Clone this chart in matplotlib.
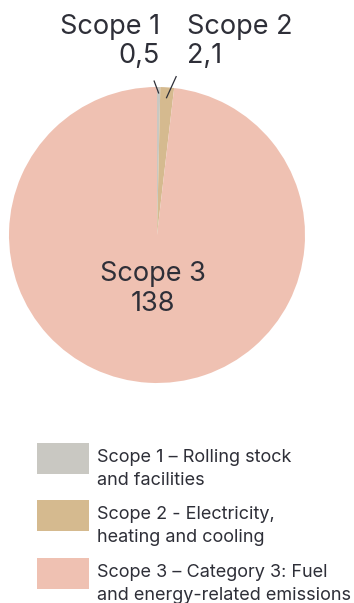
import matplotlib
matplotlib.use("Agg")
import matplotlib.pyplot as plt
import matplotlib.patches as mpatches
import numpy as np

plt.rcParams['font.family'] = ['Inter', 'DejaVu Sans']

labels = ["Scope 1", "Scope 2", "Scope 3"]
values = [0.5, 2.1, 138]
value_labels = ["0,5", "2,1", "138"]
legend_labels = ["Scope 1 – Rolling stock\nand facilities",
                 "Scope 2 - Electricity,\nheating and cooling",
                 "Scope 3 – Category 3: Fuel\nand energy-related emissions"]
colors = ["#C9C8C2", "#D5BA8F", "#EFC1B2"]
text_color = "#2E2F38"

W, H = 354, 603
fig = plt.figure(figsize=(W / 100, H / 100), dpi=100)
ax = fig.add_axes([9 / W, 220 / H, 296 / W, 296 / H])
wedges, _ = ax.pie(values, colors=colors, startangle=90, counterclock=False,
                   radius=1.0, wedgeprops=dict(linewidth=0))
ax.set_xlim(-1, 1)
ax.set_ylim(-1, 1)
ax.set_aspect('equal')
ax.axis('off')

def mid_angle(w):
    return np.deg2rad((w.theta1 + w.theta2) / 2)

a1 = mid_angle(wedges[0])
a2 = mid_angle(wedges[1])
ax.plot([0.96 * np.cos(a1), 0.96 * np.cos(a1) - 0.03], [0.96 * np.sin(a1), 1.04],
        color=text_color, lw=0.9, clip_on=False)
ax.plot([0.93 * np.cos(a2), 0.93 * np.cos(a2) + 0.065], [0.93 * np.sin(a2), 1.07],
        color=text_color, lw=0.9, clip_on=False)

lbl_fs = 19.5
ax.text(0.02, 1.305, f"{labels[0]}\n{value_labels[0]}", ha='right', va='center',
        fontsize=lbl_fs, color=text_color, linespacing=1.15, multialignment='right')
ax.text(0.20, 1.305, f"{labels[1]}\n{value_labels[1]}", ha='left', va='center',
        fontsize=lbl_fs, color=text_color, linespacing=1.15, multialignment='left')
ax.text(-0.03, -0.365, f"{labels[2]}\n{value_labels[2]}", ha='center', va='center',
        fontsize=lbl_fs, color=text_color, linespacing=1.22)

# legend drawn as swatches + text in figure pixel coordinates
fs = 13
tops = [443, 500, 558]
for c, lab, top in zip(colors, legend_labels, tops):
    fig.patches.append(mpatches.Rectangle((37 / W, 1 - (top + 31) / H), 52 / W, 31 / H,
                                          transform=fig.transFigure, facecolor=c,
                                          edgecolor='none'))
    for i, line in enumerate(lab.split("\n")):
        fig.text(97 / W, 1 - (top + 19 + 23 * i) / H, line, ha='left', va='baseline',
                 fontsize=fs, color=text_color)
fig.savefig("out.png", dpi=100)
